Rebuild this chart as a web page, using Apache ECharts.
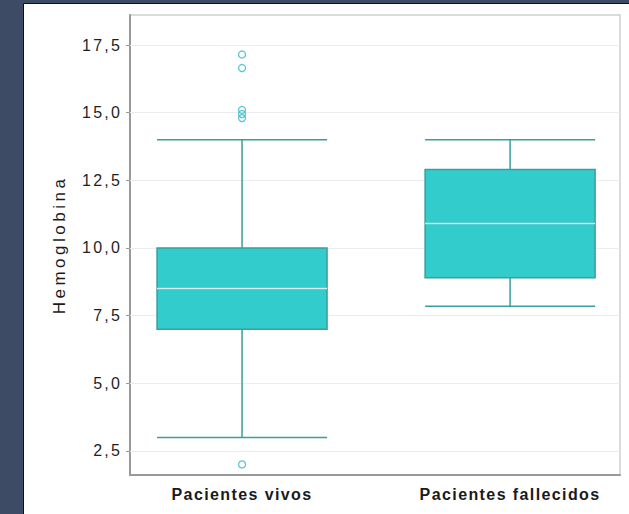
<!DOCTYPE html>
<html>
<head>
<meta charset="utf-8">
<script src="https://cdn.jsdelivr.net/npm/echarts@6/dist/echarts.min.js"></script>
<style>
html,body{margin:0;padding:0;background:#3d4b65;overflow:hidden;}
#c{width:629px;height:514px;}
#c text[style*="16px"]{letter-spacing:2.2px;}
#c text[style*="17px"]{letter-spacing:3.5px;}
#c text[style*="bold"]{letter-spacing:1.4px;}
</style>
</head>
<body>
<div id="c"></div>
<script>
// ---- data ----
const categories = ['Pacientes vivos', 'Pacientes fallecidos'];
const categoryPositions = [1, 2];
// [min, Q1, median, Q3, max]
const boxStats = [
  [3.0, 7.0, 8.5, 10.0, 14.0],
  [7.85, 8.9, 10.9, 12.9, 14.0]
];
const medians = [8.5, 10.9];
const outlierCategory = [1, 1, 1, 1, 1, 1];
const outlierValues = [17.15, 16.65, 15.1, 14.95, 14.8, 2.0];
const yTicks = [2.5, 5.0, 7.5, 10.0, 12.5, 15.0, 17.5];
const yTitle = 'Hemoglobina';

// ---- build ----
const boxData = boxStats.map((s, i) => [categoryPositions[i]].concat(s));
const medianData = medians.map((m, i) => [categoryPositions[i], m]);
const outlierData = outlierValues.map((v, i) => [outlierCategory[i], v]);

const chart = echarts.init(document.getElementById('c'), null, {renderer: 'svg'});
chart.setOption({
  animation: false,
  backgroundColor: '#3d4b65',
  graphic: [{
    type: 'rect', z: -10, silent: true,
    shape: {x: 23.5, y: 3.5, width: 610, height: 515},
    style: {fill: '#ffffff', stroke: '#111', lineWidth: 1}
  }],
  grid: {
    left: 130, right: 9, top: 15, bottom: 39,
    show: true, borderColor: '#cfcfcf', borderWidth: 1.5, backgroundColor: 'transparent'
  },
  xAxis: {
    type: 'value', min: 0.582, max: 2.41,
    axisLine: {show: true, onZero: false, lineStyle: {color: '#999', width: 2}},
    axisTick: {show: false},
    splitLine: {show: false},
    axisLabel: {
      customValues: categoryPositions,
      formatter: v => categories[categoryPositions.indexOf(v)] || '',
      color: '#1a1a1a', fontSize: 16, fontWeight: 'bold', fontFamily: 'Liberation Sans', margin: 11
    }
  },
  yAxis: {
    type: 'value', min: 1.61, max: 18.61,
    name: yTitle, nameLocation: 'middle', nameGap: 62,
    nameTextStyle: {color: '#1a1a1a', fontSize: 17, fontFamily: 'Liberation Sans'},
    axisLine: {show: true, onZero: false, lineStyle: {color: '#999', width: 2}},
    axisTick: {show: true, customValues: yTicks, length: 4, lineStyle: {color: '#999', width: 1}},
    splitLine: {show: false},
    axisLabel: {
      customValues: yTicks,
      formatter: v => v.toFixed(1).replace('.', ','),
      color: '#1f1f1f', fontSize: 16, fontFamily: 'Liberation Sans', margin: 8
    }
  },
  series: [
    {
      type: 'scatter', name: 'grid', data: [], silent: true, z: 1,
      markLine: {
        silent: true, symbol: 'none', z: 1, animation: false,
        label: {show: false},
        lineStyle: {color: '#ececec', type: 'solid', width: 1},
        data: yTicks.map(v => ({yAxis: v}))
      }
    },
    {
      type: 'boxplot', name: 'Hemoglobina', data: boxData, z: 3,
      boxWidth: [170, 170], silent: true,
      itemStyle: {color: '#33cccc', borderColor: '#3a9e9e', borderWidth: 1.5}
    },
    {
      type: 'scatter', name: 'mediana', data: medianData, z: 4, silent: true,
      symbol: 'rect', symbolSize: [170, 1.5],
      itemStyle: {color: '#ffffff'}
    },
    {
      type: 'scatter', name: 'atipicos', data: outlierData, z: 5, silent: true,
      symbol: 'circle', symbolSize: 7,
      itemStyle: {color: 'rgba(255,255,255,0)', borderColor: '#33b8c8', borderWidth: 1.3}
    }
  ]
});
</script>
</body>
</html>
